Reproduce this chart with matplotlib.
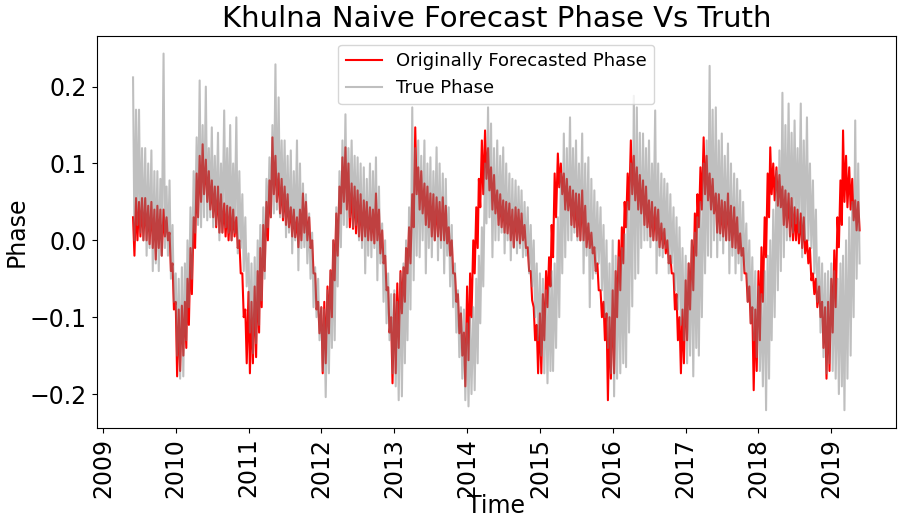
import numpy as np
import pandas as pd
import matplotlib
matplotlib.use('Agg')
import matplotlib.pyplot as plt
import matplotlib.dates as mdates

# half-month bins, Jun 2009 .. May 2019 (two bins per month)
months = pd.date_range('2009-06-01', periods=120, freq='MS')

# high / low reading of each half month
red_hi = [
    0.03, 0.055, 0.05, 0.055, 0.055, 0.045, 0.05, 0.04, 0.045, 0.04, 0.04, 0.03, 0.01, -0.03,  # 2009
    -0.08, -0.09, -0.085, -0.08, -0.05, -0.01, 0.03, 0.087, 0.11, 0.125, 0.105, 0.09,
    0.078, 0.07, 0.07, 0.06, 0.048, 0.045, 0.043, 0.04, 0.03, 0.0, -0.043, -0.09,           # 2010
    -0.067, -0.08, -0.06, -0.04, -0.01, 0.02, 0.05, 0.078, 0.134, 0.11, 0.087, 0.08,
    0.07, 0.06, 0.043, 0.04, 0.03, 0.04, 0.061, 0.05, 0.03, 0.0, -0.043, -0.08,             # 2011
    -0.087, -0.08, -0.06, -0.039, 0.0, 0.035, 0.07, 0.108, 0.121, 0.1, 0.074, 0.07,
    0.065, 0.06, 0.052, 0.05, 0.043, 0.04, 0.061, 0.04, 0.013, -0.02, -0.061, -0.1,         # 2012
    -0.07, -0.056, -0.04, -0.035, -0.01, 0.017, 0.06, 0.147, 0.095, 0.09, 0.074, 0.07,
    0.061, 0.06, 0.056, 0.05, 0.056, 0.045, 0.017, 0.0, -0.043, -0.07, -0.095, -0.12,       # 2013
    -0.06, -0.043, 0.0, 0.043, 0.08, 0.13, 0.143, 0.12, 0.095, 0.085, 0.065, 0.06,
    0.052, 0.05, 0.048, 0.04, 0.043, 0.04, 0.035, 0.02, -0.009, -0.04, -0.087, -0.11,       # 2014
    -0.095, -0.07, -0.04, -0.022, 0.02, 0.087, 0.113, 0.1, 0.087, 0.08, 0.07, 0.065,
    0.061, 0.06, 0.065, 0.045, 0.022, 0.01, -0.009, -0.03, -0.065, -0.08, -0.095, -0.1,     # 2015
    -0.065, -0.04, 0.0, 0.017, 0.05, 0.087, 0.13, 0.11, 0.095, 0.085, 0.078, 0.07,
    0.052, 0.05, 0.043, 0.04, 0.022, 0.015, 0.0, -0.02, -0.043, -0.07, -0.1, -0.09,         # 2016
    -0.052, -0.03, 0.0, 0.035, 0.06, 0.095, 0.134, 0.11, 0.087, 0.08, 0.061, 0.06,
    0.052, 0.05, 0.061, 0.045, 0.043, 0.03, 0.009, -0.01, -0.043, -0.06, -0.087, -0.09,     # 2017
    -0.04, -0.009, 0.03, 0.087, 0.121, 0.1, 0.095, 0.085, 0.07, 0.065, 0.061, 0.055,
    0.043, 0.04, 0.035, 0.03, 0.0, -0.01, -0.043, -0.05, -0.06, -0.08, -0.087, -0.08,       # 2018
    -0.05, -0.013, 0.03, 0.078, 0.143, 0.11, 0.095, 0.08, 0.052, 0.05,                      # 2019
]
red_lo = [
    -0.02, 0.0, 0.005, 0.0, 0.0, -0.005, -0.01, -0.025, -0.01, -0.02, 0.005, 0.0, -0.04, -0.09,
    -0.177, -0.17, -0.15, -0.14, -0.11, -0.07, -0.01, 0.03, 0.05, 0.06, 0.05, 0.04,
    0.03, 0.017, 0.01, 0.01, 0.005, 0.0, 0.0, 0.005, -0.01, -0.043, -0.1, -0.16,
    -0.173, -0.16, -0.152, -0.12, -0.087, -0.04, 0.0, 0.03, 0.06, 0.05, 0.035, 0.026,
    0.02, 0.017, 0.005, 0.004, -0.009, 0.0, 0.01, 0.0, -0.01, -0.043, -0.09, -0.121,
    -0.173, -0.16, -0.121, -0.1, -0.052, -0.02, 0.035, 0.05, 0.04, 0.017, 0.015, 0.009,
    0.005, 0.0, 0.005, 0.0, 0.0, -0.004, 0.0, -0.017, -0.03, -0.065, -0.12, -0.186,
    -0.173, -0.14, -0.095, -0.08, -0.043, -0.03, 0.017, 0.06, 0.04, 0.035, 0.02, 0.017,
    0.005, 0.0, 0.005, 0.0, 0.0, -0.004, -0.02, -0.043, -0.08, -0.121, -0.15, -0.19,
    -0.156, -0.1, -0.043, -0.01, 0.043, 0.06, 0.08, 0.065, 0.04, 0.035, 0.02, 0.017,
    0.01, 0.009, 0.0, -0.009, 0.0, -0.004, 0.0, -0.01, -0.04, -0.078, -0.13, -0.173,
    -0.173, -0.13, -0.087, -0.06, -0.022, 0.03, 0.069, 0.06, 0.04, 0.039, 0.02, 0.017,
    0.005, 0.0, 0.0, -0.009, -0.01, -0.017, -0.04, -0.065, -0.1, -0.13, -0.208, -0.18,
    -0.173, -0.1, -0.065, -0.03, 0.017, 0.04, 0.06, 0.052, 0.04, 0.035, 0.02, 0.017,
    0.005, 0.0, 0.0, -0.009, -0.01, -0.017, -0.03, -0.043, -0.09, -0.13, -0.173, -0.16,
    -0.13, -0.09, -0.065, -0.02, 0.017, 0.04, 0.06, 0.052, 0.04, 0.035, 0.01, 0.009,
    0.005, 0.0, 0.0, -0.009, -0.01, -0.017, -0.02, -0.043, -0.08, -0.108, -0.195, -0.17,
    -0.13, -0.08, -0.022, 0.03, 0.06, 0.052, 0.045, 0.043, 0.02, 0.017, 0.005, 0.0,
    0.0, -0.004, -0.01, -0.017, -0.03, -0.052, -0.07, -0.087, -0.1, -0.14, -0.18, -0.17,
    -0.12, -0.087, -0.009, 0.02, 0.05, 0.043, 0.04, 0.026, 0.013, 0.013,
]

gray_hi = [
    0.212, 0.17, 0.17, 0.12, 0.12, 0.1, 0.117, 0.09, 0.09, 0.08, 0.243, 0.07, 0.078, 0.02,
    -0.043, -0.05, -0.035, -0.03, 0.0, 0.043, 0.09, 0.134, 0.208, 0.15, 0.2, 0.12,
    0.147, 0.11, 0.14, 0.1, 0.169, 0.12, 0.15, 0.1, 0.16, 0.09, 0.06, 0.03,
    -0.017, -0.03, -0.022, 0.0, 0.02, 0.043, 0.08, 0.108, 0.15, 0.229, 0.186, 0.13,
    0.13, 0.11, 0.117, 0.09, 0.13, 0.1, 0.074, 0.06, 0.035, 0.01, -0.035, -0.05,
    -0.087, -0.09, -0.065, -0.04, 0.0, 0.043, 0.09, 0.13, 0.164, 0.12, 0.13, 0.11,
    0.108, 0.1, 0.095, 0.08, 0.1, 0.09, 0.108, 0.07, 0.022, 0.0, -0.043, -0.07,
    -0.065, -0.08, -0.043, -0.03, 0.0, 0.043, 0.173, 0.12, 0.13, 0.11, 0.13, 0.1,
    0.108, 0.09, 0.121, 0.1, 0.087, 0.08, 0.043, 0.02, -0.03, -0.065, -0.087, -0.09,
    -0.108, -0.1, -0.087, -0.05, -0.02, 0.017, 0.1, 0.173, 0.152, 0.12, 0.13, 0.11,
    0.121, 0.1, 0.087, 0.08, 0.078, 0.07, 0.065, 0.05, 0.043, 0.02, 0.0, -0.03,
    -0.043, -0.05, -0.065, -0.06, -0.04, -0.03, 0.03, 0.087, 0.139, 0.12, 0.16, 0.12,
    0.13, 0.1, 0.139, 0.1, 0.108, 0.08, 0.065, 0.05, 0.043, 0.02, 0.0, -0.03,
    0.0, -0.02, -0.022, -0.01, 0.008, 0.05, 0.1, 0.188, 0.173, 0.14, 0.139, 0.12,
    0.13, 0.1, 0.169, 0.1, 0.087, 0.08, 0.074, 0.06, 0.043, 0.03, 0.017, -0.01,
    -0.02, -0.03, 0.0, 0.01, 0.03, 0.05, 0.1, 0.13, 0.227, 0.17, 0.173, 0.13,
    0.139, 0.11, 0.126, 0.1, 0.087, 0.08, 0.065, 0.05, 0.022, 0.0, -0.022, -0.04,
    -0.06, -0.07, -0.04, -0.02, 0.0, 0.04, 0.09, 0.117, 0.192, 0.15, 0.178, 0.14,
    0.156, 0.12, 0.178, 0.13, 0.16, 0.1, 0.078, 0.04, -0.022, -0.03, -0.043, -0.04,
    -0.03, -0.04, -0.05, -0.03, -0.02, 0.0, 0.03, 0.05, 0.156, 0.1,
]
gray_lo = [
    0.0, 0.02, 0.01, 0.0, -0.02, -0.01, -0.04, -0.03, -0.04, -0.02, -0.01, -0.02, -0.05, -0.08,
    -0.15, -0.18, -0.177, -0.13, -0.087, -0.05, 0.01, 0.02, 0.017, 0.03, 0.026, 0.03,
    0.017, 0.02, 0.0, 0.01, 0.017, 0.01, 0.0, 0.01, -0.017, -0.01, -0.04, -0.06,
    -0.12, -0.147, -0.134, -0.11, -0.078, -0.05, 0.017, 0.03, 0.035, 0.04, 0.03, 0.03,
    0.004, 0.01, -0.017, 0.0, -0.039, -0.01, -0.009, -0.03, -0.05, -0.087, -0.1, -0.13,
    -0.17, -0.204, -0.173, -0.14, -0.13, -0.06, -0.009, 0.02, 0.017, 0.03, 0.017, 0.02,
    0.0, -0.01, -0.043, -0.02, -0.022, -0.01, -0.052, -0.03, -0.08, -0.108, -0.13, -0.173,
    -0.19, -0.208, -0.203, -0.16, -0.13, -0.09, -0.052, -0.02, -0.022, 0.0, -0.043, -0.01,
    -0.022, 0.0, -0.026, -0.01, -0.043, -0.02, -0.06, -0.087, -0.12, -0.152, -0.18, -0.208,
    -0.216, -0.2, -0.195, -0.16, -0.108, -0.06, 0.022, 0.03, -0.022, 0.0, 0.0, 0.01,
    -0.017, 0.0, -0.026, -0.01, -0.017, -0.01, -0.022, -0.02, -0.043, -0.06, -0.1, -0.13,
    -0.15, -0.173, -0.186, -0.17, -0.17, -0.14, -0.1, -0.043, -0.022, 0.0, 0.0, 0.01,
    0.0, 0.0, -0.043, -0.02, -0.087, -0.05, -0.043, -0.03, -0.065, -0.1, -0.14, -0.173,
    -0.203, -0.18, -0.173, -0.16, -0.165, -0.12, -0.086, -0.05, -0.043, -0.01, 0.0, 0.0,
    -0.009, 0.0, -0.043, -0.02, -0.022, -0.01, -0.043, -0.03, -0.065, -0.09, -0.11, -0.13,
    -0.16, -0.15, -0.177, -0.14, -0.15, -0.1, -0.043, -0.02, -0.022, 0.0, -0.022, 0.0,
    -0.017, 0.0, -0.043, -0.02, -0.043, -0.03, -0.052, -0.04, -0.08, -0.108, -0.13, -0.152,
    -0.17, -0.19, -0.221, -0.18, -0.13, -0.1, -0.065, -0.04, -0.022, 0.0, 0.0, 0.01,
    0.022, 0.01, -0.022, 0.0, 0.0, -0.01, -0.043, -0.08, -0.12, -0.152, -0.173, -0.16,
    -0.17, -0.18, -0.2, -0.19, -0.221, -0.18, -0.15, -0.1, -0.05, -0.03,
]

# each half month: high reading at its start, low reading a week later
times = []
for m in months:
    for start in (m, m + pd.Timedelta(days=15)):
        times.append(start)
        times.append(start + pd.Timedelta(days=7))
red = np.column_stack([red_hi, red_lo]).ravel()
gray = np.column_stack([gray_hi, gray_lo]).ravel()

fig = plt.figure(figsize=(8.98, 5.18), dpi=100)
ax = fig.add_axes([0.1077, 0.1737, 0.89, 0.7573])
ax.plot(times, red, color='red', lw=1.5, label='Originally Forecasted Phase')
ax.plot(times, gray, color='grey', alpha=0.5, lw=1.5, label='True Phase')

ax.xaxis.set_major_locator(mdates.YearLocator())
ax.xaxis.set_major_formatter(mdates.DateFormatter('%Y'))
plt.xticks(rotation=90, fontsize=17)
plt.yticks([-0.2, -0.1, 0.0, 0.1, 0.2], fontsize=17)
ax.set_title('Khulna Naive Forecast Phase Vs Truth', fontsize=21)
ax.set_xlabel('Time', fontsize=17, labelpad=-3)
ax.set_ylabel('Phase', fontsize=17, labelpad=1)
ax.legend(loc='upper center', fontsize=13)

plt.savefig('out.png', dpi=100)
